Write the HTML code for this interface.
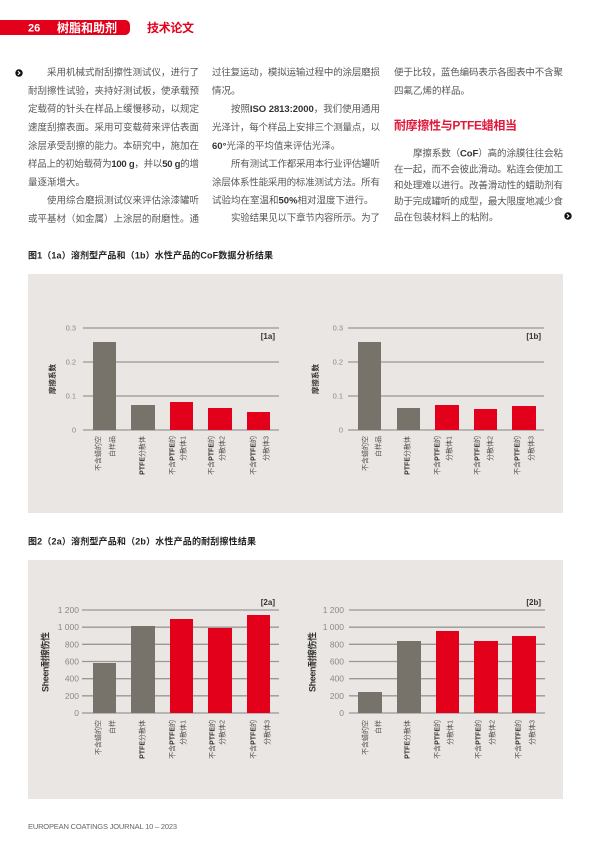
<!DOCTYPE html>
<html><head><meta charset="utf-8">
<style>
html,body{margin:0;padding:0;background:#fff;}
body{width:600px;height:849px;position:relative;overflow:hidden;}
svg{position:absolute;left:0;top:0;font-family:"Liberation Sans","Noto Sans CJK SC",sans-serif;}
.t{font-size:9.5px;fill:#575757;}
.t tspan.b{font-weight:bold;fill:#333;}
.tick{font-size:7.5px;fill:#8a8a8a;}
.tick2{font-size:8.5px;fill:#8a8a8a;}
.xl{font-size:7px;fill:#555;}
.xl tspan.b{font-weight:bold;fill:#333;}
.grid{stroke:#9a9794;stroke-width:1.3;}
</style></head><body>
<svg width="600" height="849" viewBox="0 0 600 849">
<!-- header -->
<path d="M0,20 H125 a5,5 0 0 1 5,5 V30 a5,5 0 0 1 -5,5 H0 Z" fill="#e2001a"/>
<text x="28" y="31.3" font-size="11" font-weight="bold" fill="#fff">26</text>
<text x="57" y="31.8" font-size="12" font-weight="bold" fill="#fff" textLength="60" lengthAdjust="spacing">树脂和助剂</text>
<text x="147" y="31.8" font-size="12" font-weight="bold" fill="#e2001a" textLength="47" lengthAdjust="spacing">技术论文</text>

<!-- chevrons -->
<circle cx="19" cy="73" r="3.7" fill="#111"/>
<path d="M17.9,71.2 L19.9,73 L17.9,74.8" stroke="#fff" stroke-width="1.1" fill="none"/>
<circle cx="568" cy="216" r="3.7" fill="#111"/>
<path d="M566.9,214.2 L568.9,216 L566.9,217.8" stroke="#fff" stroke-width="1.1" fill="none"/>

<!-- column 1 -->
<text class="t" x="47" y="75.6" textLength="152" lengthAdjust="spacing">采用机械式耐刮擦性测试仪，进行了</text>
<text class="t" x="28" y="93.9" textLength="171" lengthAdjust="spacing">耐刮擦性试验，夹持好测试板，使承载预</text>
<text class="t" x="28" y="112.2" textLength="171" lengthAdjust="spacing">定载荷的针头在样品上缓慢移动，以规定</text>
<text class="t" x="28" y="130.5" textLength="171" lengthAdjust="spacing">速度刮擦表面。采用可变载荷来评估表面</text>
<text class="t" x="28" y="148.8" textLength="171" lengthAdjust="spacing">涂层承受刮擦的能力。本研究中，施加在</text>
<text class="t" x="28" y="167.1" textLength="171" lengthAdjust="spacing">样品上的初始载荷为<tspan class="b">100 g</tspan>，并以<tspan class="b">50 g</tspan>的增</text>
<text class="t" x="28" y="185.4">量逐渐增大。</text>
<text class="t" x="47" y="203.7" textLength="152" lengthAdjust="spacing">使用综合磨损测试仪来评估涂漆罐听</text>
<text class="t" x="28" y="222" textLength="171" lengthAdjust="spacing">或平基材（如金属）上涂层的耐磨性。通</text>

<!-- column 2 -->
<text class="t" x="212" y="75.6" textLength="168" lengthAdjust="spacing">过往复运动，模拟运输过程中的涂层磨损</text>
<text class="t" x="212" y="93.9">情况。</text>
<text class="t" x="231" y="112.2" textLength="149" lengthAdjust="spacing">按照<tspan class="b">ISO 2813:2000</tspan>，我们使用通用</text>
<text class="t" x="212" y="130.5" textLength="168" lengthAdjust="spacing">光泽计，每个样品上安排三个测量点，以</text>
<text class="t" x="212" y="148.8"><tspan class="b">60°</tspan>光泽的平均值来评估光泽。</text>
<text class="t" x="231" y="167.1" textLength="149" lengthAdjust="spacing">所有测试工作都采用本行业评估罐听</text>
<text class="t" x="212" y="185.4" textLength="168" lengthAdjust="spacing">涂层体系性能采用的标准测试方法。所有</text>
<text class="t" x="212" y="203.7">试验均在室温和<tspan class="b">50%</tspan>相对湿度下进行。</text>
<text class="t" x="231" y="221" textLength="149" lengthAdjust="spacing">实验结果见以下章节内容所示。为了</text>

<!-- column 3 -->
<text class="t" x="394" y="75.6" textLength="169" lengthAdjust="spacing">便于比较，蓝色编码表示各图表中不含聚</text>
<text class="t" x="394" y="93.9">四氟乙烯的样品。</text>
<text x="394" y="129.5" font-size="12" font-weight="bold" fill="#e1173a" textLength="123" lengthAdjust="spacing">耐摩擦性与PTFE蜡相当</text>
<text class="t" x="413" y="156.5" textLength="150" lengthAdjust="spacing">摩擦系数（<tspan class="b">CoF</tspan>）高的涂膜往往会粘</text>
<text class="t" x="394" y="172.5" textLength="169" lengthAdjust="spacing">在一起，而不会彼此滑动。粘连会使加工</text>
<text class="t" x="394" y="188.5" textLength="169" lengthAdjust="spacing">和处理难以进行。改善滑动性的蜡助剂有</text>
<text class="t" x="394" y="204.5" textLength="169" lengthAdjust="spacing">助于完成罐听的成型，最大限度地减少食</text>
<text class="t" x="394" y="220.5">品在包装材料上的粘附。</text>

<!-- Figure 1 -->
<text x="28" y="258.5" font-size="9" font-weight="bold" fill="#222" textLength="245" lengthAdjust="spacing">图1（1a）溶剂型产品和（1b）水性产品的CoF数据分析结果</text>
<rect x="28" y="274" width="535" height="239" fill="#e9e6e3"/>

<!-- 1a -->
<g class="grid">
<line x1="83" y1="328" x2="279" y2="328"/><line x1="83" y1="362" x2="279" y2="362"/>
<line x1="83" y1="396" x2="279" y2="396"/><line x1="83" y1="430" x2="279" y2="430"/>
</g>
<g class="tick" text-anchor="end">
<text x="76" y="330.7">0.3</text><text x="76" y="364.7">0.2</text><text x="76" y="398.7">0.1</text><text x="76" y="432.7">0</text>
</g>
<rect x="93" y="342" width="23" height="88" fill="#77736a"/>
<rect x="131" y="405" width="24" height="25" fill="#77736a"/>
<rect x="170" y="402" width="23" height="28" fill="#e2001a"/>
<rect x="208" y="408" width="24" height="22" fill="#e2001a"/>
<rect x="247" y="412" width="23" height="18" fill="#e2001a"/>
<text x="275" y="339" font-size="8" font-weight="bold" fill="#333" text-anchor="end">[1a]</text>
<text transform="translate(55,379) rotate(-90)" font-size="7.5" font-weight="bold" fill="#333" text-anchor="middle">摩擦系数</text>
<g class="xl" text-anchor="end">
<text transform="translate(100.5,436) rotate(-90)">不含蜡的空</text>
<text transform="translate(114.5,436) rotate(-90)">白样品</text>
<text transform="translate(144.5,436) rotate(-90)"><tspan class="b">PTFE</tspan>分散体</text>
<text transform="translate(174.5,436) rotate(-90)">不含<tspan class="b">PTFE</tspan>的</text>
<text transform="translate(185.5,436) rotate(-90)">分散体1</text>
<text transform="translate(213.5,436) rotate(-90)">不含<tspan class="b">PTFE</tspan>的</text>
<text transform="translate(224.5,436) rotate(-90)">分散体2</text>
<text transform="translate(255.5,436) rotate(-90)">不含<tspan class="b">PTFE</tspan>的</text>
<text transform="translate(268.5,436) rotate(-90)">分散体3</text>
</g>

<!-- 1b -->
<g class="grid">
<line x1="348" y1="328" x2="544" y2="328"/><line x1="348" y1="362" x2="544" y2="362"/>
<line x1="348" y1="396" x2="544" y2="396"/><line x1="348" y1="430" x2="544" y2="430"/>
</g>
<g class="tick" text-anchor="end">
<text x="343" y="330.7">0.3</text><text x="343" y="364.7">0.2</text><text x="343" y="398.7">0.1</text><text x="343" y="432.7">0</text>
</g>
<rect x="358" y="342" width="23" height="88" fill="#77736a"/>
<rect x="397" y="408" width="23" height="22" fill="#77736a"/>
<rect x="435" y="405" width="24" height="25" fill="#e2001a"/>
<rect x="474" y="409" width="23" height="21" fill="#e2001a"/>
<rect x="512" y="406" width="24" height="24" fill="#e2001a"/>
<text x="541" y="339" font-size="8" font-weight="bold" fill="#333" text-anchor="end">[1b]</text>
<text transform="translate(318,379) rotate(-90)" font-size="7.5" font-weight="bold" fill="#333" text-anchor="middle">摩擦系数</text>
<g class="xl" text-anchor="end">
<text transform="translate(367.5,436) rotate(-90)">不含蜡的空</text>
<text transform="translate(380.5,436) rotate(-90)">白样品</text>
<text transform="translate(409.5,436) rotate(-90)"><tspan class="b">PTFE</tspan>分散体</text>
<text transform="translate(439.5,436) rotate(-90)">不含<tspan class="b">PTFE</tspan>的</text>
<text transform="translate(451.5,436) rotate(-90)">分散体1</text>
<text transform="translate(479.5,436) rotate(-90)">不含<tspan class="b">PTFE</tspan>的</text>
<text transform="translate(492.5,436) rotate(-90)">分散体2</text>
<text transform="translate(519.5,436) rotate(-90)">不含<tspan class="b">PTFE</tspan>的</text>
<text transform="translate(533.5,436) rotate(-90)">分散体3</text>
</g>

<!-- Figure 2 -->
<text x="28" y="544.5" font-size="9" font-weight="bold" fill="#222" textLength="228" lengthAdjust="spacing">图2（2a）溶剂型产品和（2b）水性产品的耐刮擦性结果</text>
<rect x="28" y="560" width="535" height="239" fill="#e9e6e3"/>

<!-- 2a -->
<g class="grid">
<line x1="82" y1="610" x2="279" y2="610"/><line x1="82" y1="627.2" x2="279" y2="627.2"/>
<line x1="82" y1="644.3" x2="279" y2="644.3"/><line x1="82" y1="661.5" x2="279" y2="661.5"/>
<line x1="82" y1="678.7" x2="279" y2="678.7"/><line x1="82" y1="695.8" x2="279" y2="695.8"/>
<line x1="82" y1="713" x2="279" y2="713"/>
</g>
<g class="tick2" text-anchor="end">
<text x="79" y="613">1 200</text><text x="79" y="630.2">1 000</text><text x="79" y="647.3">800</text>
<text x="79" y="664.5">600</text><text x="79" y="681.7">400</text><text x="79" y="698.8">200</text><text x="79" y="716">0</text>
</g>
<rect x="93" y="663" width="23" height="50" fill="#77736a"/>
<rect x="131" y="626" width="24" height="87" fill="#77736a"/>
<rect x="170" y="619" width="23" height="94" fill="#e2001a"/>
<rect x="208" y="628" width="24" height="85" fill="#e2001a"/>
<rect x="247" y="615" width="23" height="98" fill="#e2001a"/>
<text x="275" y="605" font-size="8" font-weight="bold" fill="#333" text-anchor="end">[2a]</text>
<text transform="translate(48.5,662) rotate(-90)" font-size="9" font-weight="bold" fill="#333" text-anchor="middle" textLength="60" lengthAdjust="spacing">Sheen耐擦伤性</text>
<g class="xl" text-anchor="end">
<text transform="translate(100.5,720) rotate(-90)">不含蜡的空</text>
<text transform="translate(114.5,720) rotate(-90)">白样</text>
<text transform="translate(144.5,720) rotate(-90)"><tspan class="b">PTFE</tspan>分散体</text>
<text transform="translate(174.5,720) rotate(-90)">不含<tspan class="b">PTFE</tspan>的</text>
<text transform="translate(185.5,720) rotate(-90)">分散体1</text>
<text transform="translate(214.5,720) rotate(-90)">不含<tspan class="b">PTFE</tspan>的</text>
<text transform="translate(224.5,720) rotate(-90)">分散体2</text>
<text transform="translate(255.5,720) rotate(-90)">不含<tspan class="b">PTFE</tspan>的</text>
<text transform="translate(269.5,720) rotate(-90)">分散体3</text>
</g>

<!-- 2b -->
<g class="grid">
<line x1="349" y1="610" x2="545" y2="610"/><line x1="349" y1="627.2" x2="545" y2="627.2"/>
<line x1="349" y1="644.3" x2="545" y2="644.3"/><line x1="349" y1="661.5" x2="545" y2="661.5"/>
<line x1="349" y1="678.7" x2="545" y2="678.7"/><line x1="349" y1="695.8" x2="545" y2="695.8"/>
<line x1="349" y1="713" x2="545" y2="713"/>
</g>
<g class="tick2" text-anchor="end">
<text x="344" y="613">1 200</text><text x="344" y="630.2">1 000</text><text x="344" y="647.3">800</text>
<text x="344" y="664.5">600</text><text x="344" y="681.7">400</text><text x="344" y="698.8">200</text><text x="344" y="716">0</text>
</g>
<rect x="358" y="692" width="24" height="21" fill="#77736a"/>
<rect x="397" y="641" width="24" height="72" fill="#77736a"/>
<rect x="436" y="631" width="23" height="82" fill="#e2001a"/>
<rect x="474" y="641" width="24" height="72" fill="#e2001a"/>
<rect x="512" y="636" width="24" height="77" fill="#e2001a"/>
<text x="541" y="605" font-size="8" font-weight="bold" fill="#333" text-anchor="end">[2b]</text>
<text transform="translate(315.5,662) rotate(-90)" font-size="9" font-weight="bold" fill="#333" text-anchor="middle" textLength="60" lengthAdjust="spacing">Sheen耐擦伤性</text>
<g class="xl" text-anchor="end">
<text transform="translate(367.5,720) rotate(-90)">不含蜡的空</text>
<text transform="translate(380.5,720) rotate(-90)">白样</text>
<text transform="translate(409.5,720) rotate(-90)"><tspan class="b">PTFE</tspan>分散体</text>
<text transform="translate(439.5,720) rotate(-90)">不含<tspan class="b">PTFE</tspan>的</text>
<text transform="translate(452.5,720) rotate(-90)">分散体1</text>
<text transform="translate(480.5,720) rotate(-90)">不含<tspan class="b">PTFE</tspan>的</text>
<text transform="translate(494.5,720) rotate(-90)">分散体2</text>
<text transform="translate(520.5,720) rotate(-90)">不含<tspan class="b">PTFE</tspan>的</text>
<text transform="translate(534.5,720) rotate(-90)">分散体3</text>
</g>

<!-- footer -->
<text x="28" y="829" font-size="7.5" fill="#666" textLength="149" lengthAdjust="spacing">EUROPEAN COATINGS JOURNAL 10 – 2023</text>
</svg>
</body></html>
